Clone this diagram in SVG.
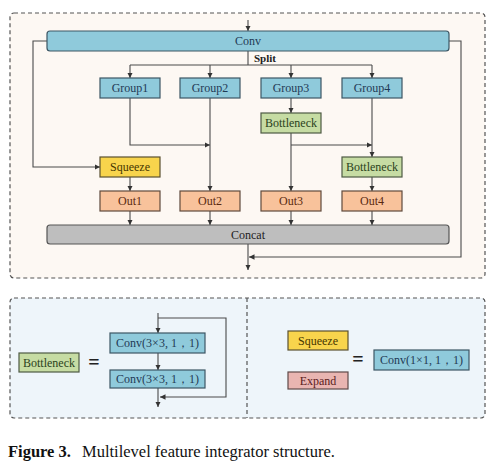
<svg xmlns="http://www.w3.org/2000/svg" width="496" height="474" viewBox="0 0 496 474">
<defs>
<style>
.t{font-family:"Liberation Serif","Times New Roman",serif;font-size:12px;text-anchor:middle;dominant-baseline:central}
.blue{fill:#8fcadb;stroke:#3c5664;stroke-width:1.2}
.green{fill:#c6dca3;stroke:#4e5a44;stroke-width:1.2}
.yel{fill:#f8d44c;stroke:#5a5030;stroke-width:1.2}
.org{fill:#f8c29b;stroke:#5f4a3c;stroke-width:1.2}
.pink{fill:#e9b5b1;stroke:#5f4a48;stroke-width:1.2}
.gray{fill:#bebebe;stroke:#555;stroke-width:1.2}
.tb{fill:#1f3a55}.tg{fill:#2c4220}.to{fill:#5a2a10}.ty{fill:#463600}.tp{fill:#5a2020}.tk{fill:#222}
.ln{fill:none;stroke:#4a4a4a;stroke-width:1.1}
.dash{stroke:#555;stroke-width:1.2;stroke-dasharray:4 3}
</style>
<marker id="a" viewBox="0 0 10 10" refX="10" refY="5" markerWidth="5" markerHeight="5" orient="auto"><path d="M0,0L10,5L0,10z" fill="#333"/></marker>
</defs>
<rect width="496" height="474" fill="#fff"/>
<rect x="10" y="13" width="475" height="265" rx="4" fill="#fdf8f3" class="dash"/>
<rect x="10" y="298" width="475" height="120" rx="4" fill="#eef5fa" class="dash"/>
<line x1="247" y1="298" x2="247" y2="418" class="dash"/>

<g id="connectors">
<path class="ln" d="M248,20V31" marker-end="url(#a)"/>
<path class="ln" d="M248,51V65M130,65H372"/>
<path class="ln" d="M130,65V78" marker-end="url(#a)"/>
<path class="ln" d="M210,65V78" marker-end="url(#a)"/>
<path class="ln" d="M291,65V78" marker-end="url(#a)"/>
<path class="ln" d="M372,65V78" marker-end="url(#a)"/>
<path class="ln" d="M47,41H33V167H100" marker-end="url(#a)"/>
<path class="ln" d="M130,98V145H210" marker-end="url(#a)"/>
<path class="ln" d="M210,98V191" marker-end="url(#a)"/>
<path class="ln" d="M291,98V113" marker-end="url(#a)"/>
<path class="ln" d="M291,133V191" marker-end="url(#a)"/>
<path class="ln" d="M291,145H372" marker-end="url(#a)"/>
<path class="ln" d="M372,98V157" marker-end="url(#a)"/>
<path class="ln" d="M372,177V191" marker-end="url(#a)"/>
<path class="ln" d="M130,177V191" marker-end="url(#a)"/>
<path class="ln" d="M130,211V225" marker-end="url(#a)"/>
<path class="ln" d="M210,211V225" marker-end="url(#a)"/>
<path class="ln" d="M291,211V225" marker-end="url(#a)"/>
<path class="ln" d="M372,211V225" marker-end="url(#a)"/>
<path class="ln" d="M449,41H461V257H249" marker-end="url(#a)"/>
<path class="ln" d="M248,244V270" marker-end="url(#a)"/>
<path class="ln" d="M158,313V333" marker-end="url(#a)"/>
<path class="ln" d="M158,353V370" marker-end="url(#a)"/>
<path class="ln" d="M158,388V407" marker-end="url(#a)"/>
<path class="ln" d="M158,318H226V397H160" marker-end="url(#a)"/>
</g>

<g id="conv"><rect x="47" y="31" width="402" height="20" rx="3" class="blue"/><text x="248" y="41" class="t tb">Conv</text></g>
<text x="254" y="57.5" style="font-family:'Liberation Serif',serif;font-size:11px;font-weight:bold;dominant-baseline:central" fill="#222">Split</text>
<g id="group1"><rect x="100" y="78" width="60" height="20" class="blue"/><text x="130" y="88" class="t tb">Group1</text></g>
<g id="group2"><rect x="180" y="78" width="60" height="20" class="blue"/><text x="210" y="88" class="t tb">Group2</text></g>
<g id="group3"><rect x="261" y="78" width="60" height="20" class="blue"/><text x="291" y="88" class="t tb">Group3</text></g>
<g id="group4"><rect x="342" y="78" width="60" height="20" class="blue"/><text x="372" y="88" class="t tb">Group4</text></g>
<g id="bottleneck1"><rect x="261" y="113" width="60" height="20" class="green"/><text x="291" y="123" class="t tg">Bottleneck</text></g>
<g id="squeeze"><rect x="100" y="157" width="60" height="20" class="yel"/><text x="130" y="167" class="t ty">Squeeze</text></g>
<g id="bottleneck2"><rect x="342" y="157" width="60" height="20" class="green"/><text x="372" y="167" class="t tg">Bottleneck</text></g>
<g id="out1"><rect x="100" y="191" width="60" height="20" class="org"/><text x="130" y="201" class="t to">Out1</text></g>
<g id="out2"><rect x="180" y="191" width="60" height="20" class="org"/><text x="210" y="201" class="t to">Out2</text></g>
<g id="out3"><rect x="261" y="191" width="60" height="20" class="org"/><text x="291" y="201" class="t to">Out3</text></g>
<g id="out4"><rect x="342" y="191" width="60" height="20" class="org"/><text x="372" y="201" class="t to">Out4</text></g>
<g id="concat"><rect x="47" y="225" width="402" height="19" rx="3" class="gray"/><text x="248" y="234.5" class="t tk">Concat</text></g>

<g id="legend-bottleneck"><rect x="19" y="353" width="60" height="19" class="green"/><text x="49" y="362.5" class="t tg">Bottleneck</text></g>
<text x="94" y="362" class="t tk" style="font-size:20px;font-weight:bold">=</text>
<g id="conv3a"><rect x="110" y="333" width="95" height="20" class="blue"/><text x="157.5" y="343" class="t tb">Conv(3×3, 1，1)</text></g>
<g id="conv3b"><rect x="110" y="370" width="95" height="18" class="blue"/><text x="157.5" y="379" class="t tb">Conv(3×3, 1，1)</text></g>
<g id="legend-squeeze"><rect x="288" y="331" width="60" height="19" class="yel"/><text x="318" y="340.5" class="t ty">Squeeze</text></g>
<g id="legend-expand"><rect x="288" y="372" width="60" height="17" class="pink"/><text x="318" y="380.5" class="t tp">Expand</text></g>
<text x="358" y="359" class="t tk" style="font-size:20px;font-weight:bold">=</text>
<g id="conv1"><rect x="374" y="350" width="95" height="20" class="blue"/><text x="421.5" y="360" class="t tb">Conv(1×1, 1，1)</text></g>

<text x="8" y="457" style="font-family:'Liberation Serif',serif;font-size:16.5px" fill="#111"><tspan font-weight="bold">Figure 3.</tspan><tspan x="82">Multilevel feature integrator structure.</tspan></text>
</svg>
